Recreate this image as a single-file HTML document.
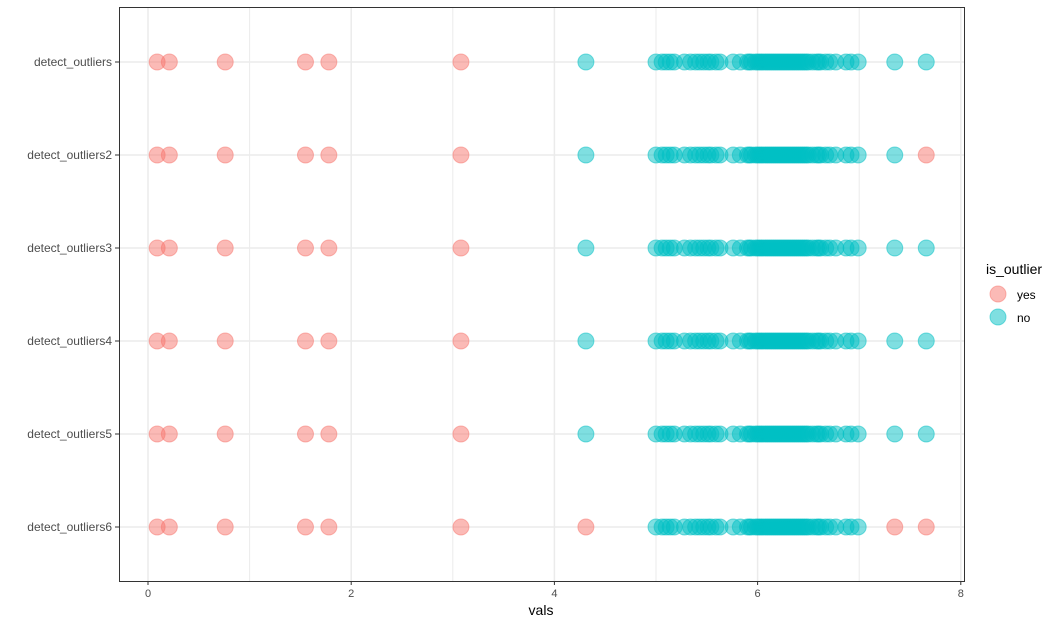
<!DOCTYPE html>
<html><head><meta charset="utf-8"><style>
body{margin:0;background:#fff;font-family:"Liberation Sans",sans-serif}
</style></head><body>
<svg id="chart" width="1059" height="627" xmlns="http://www.w3.org/2000/svg" font-family="Liberation Sans, sans-serif">
<rect x="119.5" y="7.5" width="845" height="574" fill="#fff" stroke="#333" stroke-width="1"/>
<g id="grid"></g><g id="pts"></g><g id="axes"></g>
<g>
<text x="986" y="274" font-size="14" fill="#000">is_outlier</text>
<circle cx="998" cy="294" r="8" fill="#F8766D" fill-opacity="0.5" stroke="#F8766D" stroke-opacity="0.5"/>
<text x="1017" y="299" font-size="12" fill="#000">yes</text>
<circle cx="998" cy="317" r="8" fill="#00BFC4" fill-opacity="0.5" stroke="#00BFC4" stroke-opacity="0.5"/>
<text x="1017" y="322" font-size="12" fill="#000">no</text>
</g>
<text x="541" y="615" font-size="14" text-anchor="middle" fill="#000">vals</text>
</svg>
<script>
const categories=["detect_outliers","detect_outliers2","detect_outliers3","detect_outliers4","detect_outliers5","detect_outliers6"];
const vals=[0.09,0.21,0.76,1.55,1.78,3.08,4.31,5.00,5.06,5.10,5.14,5.18,5.28,5.34,5.39,5.43,5.47,5.51,5.54,5.59,5.63,5.76,5.83,5.90,5.92,5.94,5.98,6.00,6.02,6.04,6.06,6.08,6.10,6.12,6.14,6.16,6.18,6.20,6.22,6.24,6.26,6.28,6.30,6.32,6.34,6.36,6.38,6.40,6.42,6.44,6.46,6.48,6.50,6.54,6.58,6.60,6.62,6.67,6.71,6.77,6.87,6.92,6.99,7.35,7.66];
const N=vals.length;
const outlierRows1=[0,1,2,3,4,5];
const outlierRows2=[0,1,2,3,4,5,N-1];
const outlierRows3=[0,1,2,3,4,5];
const outlierRows4=[0,1,2,3,4,5];
const outlierRows5=[0,1,2,3,4,5];
const outlierRows6=[0,1,2,3,4,5,6,N-2,N-1];
const outliers=[outlierRows1,outlierRows2,outlierRows3,outlierRows4,outlierRows5,outlierRows6];
const xTicks=[0,2,4,6,8];
const NS="http://www.w3.org/2000/svg";
const x=v=>148+v*101.6;
const y=i=>62+i*93;
function mk(t,a,p){const e=document.createElementNS(NS,t);for(const k in a)e.setAttribute(k,a[k]);p.appendChild(e);return e;}
const grid=document.getElementById('grid'),pts=document.getElementById('pts'),axes=document.getElementById('axes');
for(let v=1;v<8;v+=2){const l=mk('line',{x1:x(v),x2:x(v),y1:8,y2:581,stroke:'#ebebeb','stroke-width':1},grid);

}
xTicks.forEach(v=>{const l=mk('line',{x1:x(v),x2:x(v),y1:8,y2:581,stroke:'#ebebeb','stroke-width':1.5},grid);


const t=mk('line',{x1:x(v),x2:x(v),y1:581,y2:585,stroke:'#333'},axes);


const tx=mk('text',{x:x(v),y:597,'font-size':11,fill:'#4d4d4d','text-anchor':'middle'},axes);tx.textContent=v;

});
categories.forEach((c,i)=>{const l=mk('line',{x1:120,x2:964,y1:y(i),y2:y(i),stroke:'#ebebeb','stroke-width':1.5},grid);


const t=mk('line',{x1:115,x2:119,y1:y(i),y2:y(i),stroke:'#333'},axes);


const tx=mk('text',{x:112,y:y(i)+4,'font-size':12,fill:'#4d4d4d','text-anchor':'end'},axes);tx.textContent=c;


vals.forEach((v,j)=>{const col=outliers[i].includes(j)?'#F8766D':'#00BFC4';
const p=mk('circle',{cx:x(v),cy:y(i),r:8,fill:col,'fill-opacity':0.5,stroke:col,'stroke-opacity':0.5},pts);

});});
</script>
</body></html>
